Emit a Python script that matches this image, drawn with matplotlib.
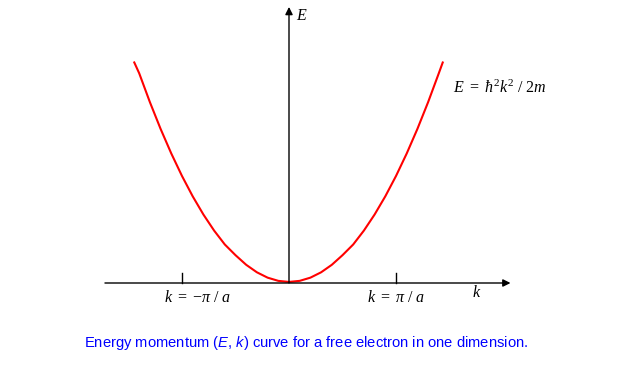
import matplotlib
matplotlib.use("Agg")
import matplotlib.pyplot as plt

plt.rcParams["mathtext.fontset"] = "custom"
plt.rcParams["mathtext.rm"] = "Liberation Serif"
plt.rcParams["mathtext.it"] = "Liberation Serif:italic"
plt.rcParams["mathtext.sf"] = "Liberation Sans:italic"

# k in units of pi/a, E in matching arbitrary units
k_vals = [-1.45, -1.4, -1.3, -1.2, -1.1, -1.0, -0.9, -0.8, -0.7, -0.6, -0.5,
          -0.4, -0.3, -0.2, -0.1, 0.0, 0.1, 0.2, 0.3, 0.4, 0.5, 0.6, 0.7,
          0.8, 0.9, 1.0, 1.1, 1.2, 1.3, 1.4, 1.44]
E_vals = [2.07, 1.96, 1.69, 1.44, 1.21, 1.00, 0.81, 0.64, 0.49, 0.36, 0.26,
          0.17, 0.10, 0.05, 0.02, 0.01, 0.02, 0.05, 0.10, 0.17, 0.26, 0.36, 0.49,
          0.64, 0.81, 1.00, 1.21, 1.44, 1.69, 1.96, 2.07]
tick_k = [-1, 1]
tick_labels = [r"$k\ =\ {-}\pi\ /\ a$", r"$k\ =\ \pi\ /\ a$"]

fig = plt.figure(figsize=(6.24, 3.69), dpi=100)
ax = fig.add_axes([0, 0, 1, 1])
px = 107.0  # pixels per unit
ax.set_xlim(-289 / px, (624 - 289) / px)
ax.set_ylim(-(369 - 283) / px, 283 / px)
ax.axis("off")

# axes with arrows
arrow = dict(arrowstyle="-|>", mutation_scale=11, lw=1.0, color="black",
             shrinkA=0, shrinkB=0)
ax.annotate("", xy=(2.07, 0), xytext=(-1.72, 0), arrowprops=arrow)
ax.annotate("", xy=(0, 2.58), xytext=(0, 0), arrowprops=arrow)

# curve
ax.plot(k_vals, E_vals, color="red", lw=1.5, solid_capstyle="butt")

# ticks and labels
fs = 11.5
for kk in tick_k:
    ax.plot([kk, kk], [0, 0.095], color="black", lw=1.0)
ax.text(-1 + 16 / px, -14 / px, tick_labels[0], ha="center", va="center", fontsize=fs)
ax.text(1, -14 / px, tick_labels[1], ha="center", va="center", fontsize=fs)

ax.text(188 / px, -9 / px, r"$k$", ha="center", va="center", fontsize=fs)
ax.text(13 / px, 268 / px, r"$E$", ha="center", va="center", fontsize=fs)
ax.text(164 / px, 196 / px, r"$E\ =\ \hbar^2 k^2\ /\ 2m$", ha="left", va="center",
        fontsize=fs)

fig.text(306 / 624, 1 - 343 / 369,
         r"Energy momentum ($\mathsf{E}$, $\mathsf{k}$) curve for a free electron in one dimension.",
         ha="center", va="center", color="#0000ff", fontsize=10.6,
         family="Liberation Sans")

fig.savefig("out.png", dpi=100, facecolor="white")
